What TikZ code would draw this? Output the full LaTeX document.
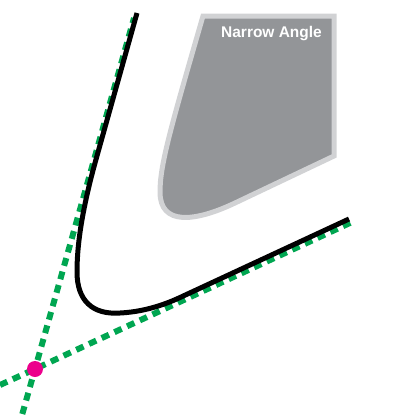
\documentclass[tikz,border=0pt]{standalone}
\usepackage{fontspec}
\setsansfont{Liberation Sans}
\tikzset{
  guide/.style = {draw=guidegreen, line width=4.5pt,
    dash pattern=on 6pt off 4.5pt},% lignes de construction
  bend_path/.style = {draw=black, line width=3.75pt, line cap=butt},% trajectoire
  zone/.style = {draw=zoneborder, fill=zonefill, line width=3.75pt,
    line join=miter},% zone grise
  apex/.style = {circle, fill=apexpink, inner sep=0pt,
    minimum size=12pt},% point d'intersection
  zone_label/.style = {font=\sffamily\bfseries\fontsize{11.6}{13}\selectfont,
    text=white, inner sep=0pt}
}
\definecolor{guidegreen}{HTML}{00A651}
\definecolor{zoneborder}{HTML}{D1D2D4}
\definecolor{zonefill}{HTML}{939598}
\definecolor{apexpink}{HTML}{EC008C}

\begin{document}
\begin{tikzpicture}[x=0.75pt, y=-0.75pt]
  \useasboundingbox (0,0) rectangle (417,414);
  % zone grise
  \draw [zone] (203,16) -- (334,16) -- (334,156) -- (235,203)
    .. controls (195,222) and (160,226) .. (160,192)
    .. controls (160,165) and (170,130) .. cycle;
  \node [zone_label] (label) at (271.5,34) {Narrow Angle};
  % lignes vertes
  \coordinate (cross) at (35,369);
  \coordinate (g1a) at (22.3,414);
  \coordinate (g1b) at (134,18);
  \coordinate (g2a) at (0,385);
  \coordinate (g2b) at (352,222);
  \draw [guide] (g1a) -- (cross) -- (g1b);
  \draw [guide] (g2a) -- (cross) -- (g2b);
  % trajectoire noire
  \coordinate (pathtop) at (137,13);
  \coordinate (pathend) at (349,219);
  \draw [bend_path] (pathtop) -- (95,163)
    .. controls (84,203) and (77,240) .. (77,272)
    .. controls (77,300) and (92,315) .. (120,313)
    .. controls (140,312) and (160,306.8) .. (180,297.5) -- (pathend);
  \node [apex] (meet) at (cross) {};
\end{tikzpicture}
\end{document}
